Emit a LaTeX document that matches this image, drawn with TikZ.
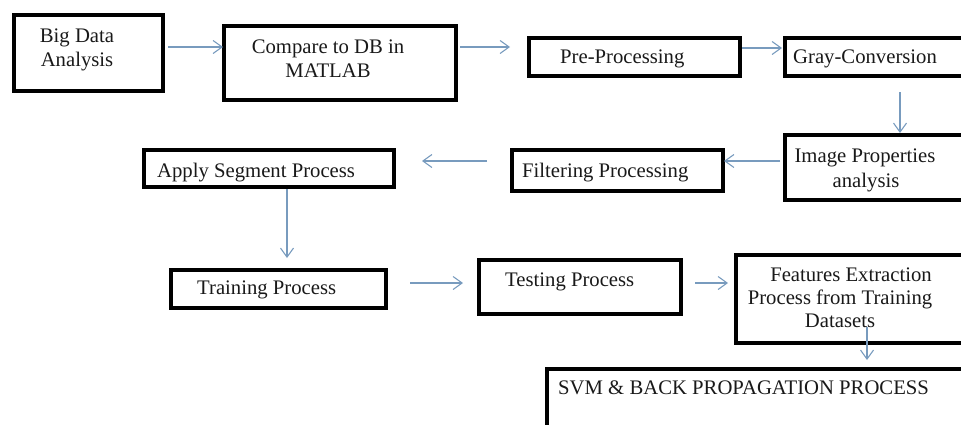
\documentclass[tikz,border=0pt]{standalone}
\usepackage{fontspec}
\setmainfont{Liberation Serif}
\usetikzlibrary{arrows.meta}
\definecolor{arrowc}{RGB}{120,155,190}
\begin{document}
\begin{tikzpicture}[x=1pt,y=-1pt,
 box/.style={draw=black, line width=3.5pt, rectangle, inner sep=0pt, outer sep=0pt, anchor=north west},
 txt/.style={inner sep=0pt, font=\fontsize{20.7}{24}\selectfont, text=black!90},
 arr/.style={draw=arrowc, line width=1.1pt, -{Straight Barb[length=9pt,width=13pt]}}
]
\useasboundingbox (0,0) rectangle (961,424);
\clip (0,0) rectangle (961,424);
% boxes
\node[box, minimum width=149pt, minimum height=76pt] (big) at (14,15) {};
\node[box, minimum width=232pt, minimum height=74pt] (cmp) at (224,26) {};
\node[box, minimum width=211pt, minimum height=38pt] (pre) at (529,38) {};
\node[box, minimum width=215pt, minimum height=38pt] (gray) at (785,38) {};
\node[box, minimum width=215pt, minimum height=65pt] (img) at (785,135) {};
\node[box, minimum width=211pt, minimum height=41pt] (filt) at (512,150) {};
\node[box, minimum width=250pt, minimum height=37pt] (seg) at (144,150) {};
\node[box, minimum width=215pt, minimum height=38pt] (train) at (171,270) {};
\node[box, minimum width=202pt, minimum height=54pt] (test) at (479,260) {};
\node[box, minimum width=264pt, minimum height=88pt] (feat) at (736,255) {};
\node[box, minimum width=453pt, minimum height=81pt] (svm) at (547,369) {};
% texts
\node[txt, anchor=base] (t1a) at (77,42) {Big Data};
\node[txt, anchor=base] (t1b) at (77,66) {Analysis};
\node[txt, anchor=base] (t2a) at (328,53) {Compare to DB in};
\node[txt, anchor=base] (t2b) at (328,77) {MATLAB};
\node[txt, anchor=base west] (t3) at (560,63) {Pre-Processing};
\node[txt, anchor=base west] (t4) at (793,63) {Gray-Conversion};
\node[txt, anchor=base] (t5a) at (865,162) {Image Properties};
\node[txt, anchor=base] (t5b) at (866,187) {analysis};
\node[txt, anchor=base west] (t6) at (522,177) {Filtering Processing};
\node[txt, anchor=base west] (t7) at (157,177) {Apply Segment Process};
\node[txt, anchor=base west] (t8) at (197,294) {Training Process};
\node[txt, anchor=base west] (t9) at (505,286) {Testing Process};
\node[txt, anchor=base] (t10a) at (851,281) {Features Extraction};
\node[txt, anchor=base] (t10b) at (840,304) {Process from Training};
\node[txt, anchor=base] (t10c) at (840,327) {Datasets};
\node[txt, anchor=base west] (t11) at (558,394) {SVM \& BACK PROPAGATION PROCESS};
% connectors
\draw[arr, shorten <=5pt, shorten >=1pt] (big.east |- 0,47) -- (cmp.west |- 0,47);
\draw[arr, shorten <=4pt, shorten >=19pt] (cmp.east |- 0,47) -- (pre.west |- 0,47);
\draw[arr, shorten <=2pt, shorten >=3pt] (pre.east |- 0,48) -- (gray.west |- 0,48);
\draw[arr, shorten <=16pt, shorten >=2pt] (gray.south -| 900,0) -- (img.north -| 900,0);
\draw[arr, shorten <=5pt, shorten >=1pt] (img.west |- 0,161) -- (filt.east |- 0,161);
\draw[arr, shorten <=25pt, shorten >=28pt] (filt.west |- 0,161) -- (seg.east |- 0,161);
\draw[arr, shorten <=2pt, shorten >=12pt] (seg.south -| 287,0) -- (train.north -| 287,0);
\draw[arr, shorten <=24pt, shorten >=16pt] (train.east |- 0,283) -- (test.west |- 0,283);
\draw[arr, shorten <=14pt, shorten >=8pt] (test.east |- 0,283) -- (feat.west |- 0,283);
\draw[arr, shorten <=-16pt, shorten >=9pt] (feat.south -| 867,0) -- (svm.north -| 867,0);
\end{tikzpicture}
\end{document}
